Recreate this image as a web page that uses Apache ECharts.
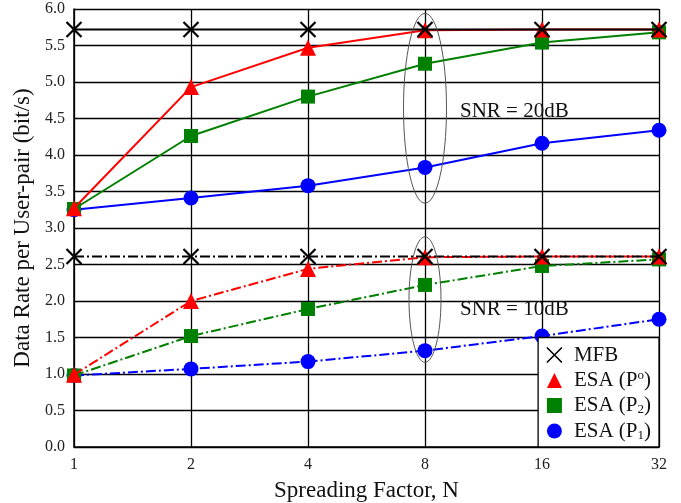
<!DOCTYPE html>
<html>
<head>
<meta charset="utf-8">
<script src="https://cdn.jsdelivr.net/npm/echarts@6/dist/echarts.min.js"></script>
<style>
  html, body { margin: 0; padding: 0; background: #fff; }
  #chart { width: 681px; height: 503px; }
</style>
</head>
<body>
<div id="chart"></div>
<script>
// Spreading factors on the horizontal axis
const spreadingFactors = ['1', '2', '4', '8', '16', '32'];
const yTicks = [0, 0.5, 1.0, 1.5, 2.0, 2.5, 3.0, 3.5, 4.0, 4.5, 5.0, 5.5, 6.0];

// SNR = 20 dB
const mfb20 = [5.72, 5.72, 5.72, 5.72, 5.72, 5.72];
const esaPo20 = [3.27, 4.93, 5.47, 5.71, 5.72, 5.72];
const esaP2_20 = [3.26, 4.26, 4.80, 5.25, 5.54, 5.68];
const esaP1_20 = [3.25, 3.41, 3.58, 3.83, 4.16, 4.34];

// SNR = 10 dB
const mfb10 = [2.61, 2.61, 2.61, 2.61, 2.61, 2.61];
const esaPo10 = [0.99, 2.00, 2.44, 2.60, 2.61, 2.61];
const esaP2_10 = [0.98, 1.52, 1.89, 2.22, 2.48, 2.57];
const esaP1_10 = [0.98, 1.07, 1.17, 1.32, 1.52, 1.75];

const FONT = '"Liberation Serif", "Times New Roman", serif';
const CROSS = 'path://M0,0L10,10M0,10L10,0';
const DASHDOT = [10, 3, 2, 3];

const chart = echarts.init(document.getElementById('chart'), null, { renderer: 'canvas' });

function lineSeries(name, data, color, symbol, size, dashed, z) {
  const s = {
    name: name,
    type: 'line',
    data: data,
    symbol: symbol,
    symbolSize: size,
    showSymbol: true,
    z: z,
    lineStyle: { color: color, width: 2, type: dashed ? DASHDOT : 'solid' },
    itemStyle: { color: color, opacity: 1 }
  };
  if (symbol === CROSS) {
    s.itemStyle = { color: 'rgba(0,0,0,0)', borderColor: color, borderWidth: 2.2 };
  }
  return s;
}

const option = {
  backgroundColor: '#ffffff',
  animation: false,
  textStyle: { fontFamily: FONT, color: '#111' },
  grid: { left: 74, right: 22, top: 9, bottom: 56, show: false, outerBoundsMode: 'none', containLabel: false },
  xAxis: {
    type: 'category',
    data: spreadingFactors,
    boundaryGap: false,
    name: 'Spreading Factor, N',
    nameLocation: 'middle',
    nameGap: 32,
    nameTextStyle: { fontFamily: FONT, fontSize: 23, color: '#111' },
    axisLine: { lineStyle: { color: '#000', width: 1.5 } },
    axisTick: { show: false },
    axisLabel: { fontFamily: FONT, fontSize: 16, color: '#222', margin: 10 },
    splitLine: { show: true, lineStyle: { color: '#000', width: 1.3 } }
  },
  yAxis: {
    type: 'value',
    min: yTicks[0],
    max: yTicks[yTicks.length - 1],
    interval: 0.5,
    name: 'Data Rate per User-pair (bit/s)',
    nameLocation: 'middle',
    nameGap: 39,
    nameTextStyle: { fontFamily: FONT, fontSize: 23, color: '#111' },
    axisLine: { show: true, lineStyle: { color: '#000', width: 1.5 } },
    axisTick: { show: false },
    axisLabel: {
      fontFamily: FONT, fontSize: 16, color: '#222', margin: 9,
      formatter: v => v.toFixed(1)
    },
    splitLine: { show: true, lineStyle: { color: '#000', width: 1.3 } }
  },
  legend: {
    orient: 'vertical',
    right: 22,
    bottom: 56,
    padding: [7, 8, 5, 8],
    itemGap: 4,
    itemWidth: 15,
    itemHeight: 15,
    backgroundColor: '#fff',
    borderColor: '#000',
    borderWidth: 1.3,
    borderRadius: 0,
    textStyle: {
      fontFamily: FONT, fontSize: 21, color: '#111',
      rich: {
        t: { fontFamily: FONT, fontSize: 21, color: '#111', lineHeight: 21 },
        sp: { width: 7 },
        sup: { fontFamily: FONT, fontSize: 13, color: '#111', verticalAlign: 'top', padding: [0, 0, 9, 0] },
        sub: { fontFamily: FONT, fontSize: 13, color: '#111', verticalAlign: 'bottom', padding: [9, 0, 0, 0] }
      }
    },
    formatter: function (name) {
      if (name === 'ESA (Po)') return '{sp|}{t|ESA (P}{sup|o}{t|)}';
      if (name === 'ESA (P2)') return '{sp|}{t|ESA (P}{sub|2}{t|)}';
      if (name === 'ESA (P1)') return '{sp|}{t|ESA (P}{sub|1}{t|)}';
      return '{sp|}{t|' + name + '}';
    },
    data: [
      { name: 'MFB', icon: CROSS, itemStyle: { color: 'rgba(0,0,0,0)', borderColor: '#000', borderWidth: 1.6 } },
      { name: 'ESA (Po)', icon: 'triangle', itemStyle: { color: '#ff0000' } },
      { name: 'ESA (P2)', icon: 'rect', itemStyle: { color: '#008000' } },
      { name: 'ESA (P1)', icon: 'circle', itemStyle: { color: '#0000ff' } }
    ]
  },
  series: [
    lineSeries('ESA (P1)', esaP1_20, '#0000ff', 'circle', 15, false, 3),
    lineSeries('ESA (P2)', esaP2_20, '#008000', 'rect', 14, false, 4),
    lineSeries('ESA (Po)', esaPo20, '#ff0000', 'triangle', 16, false, 5),
    lineSeries('MFB', mfb20, '#000000', CROSS, 15, false, 6),
    lineSeries('ESA (P1)', esaP1_10, '#0000ff', 'circle', 15, true, 3),
    lineSeries('ESA (P2)', esaP2_10, '#008000', 'rect', 14, true, 4),
    lineSeries('ESA (Po)', esaPo10, '#ff0000', 'triangle', 16, true, 5),
    lineSeries('MFB', mfb10, '#000000', CROSS, 15, true, 6)
  ]
};

chart.setOption(option);

// Ellipses marking N = 8 for each SNR group, plus the SNR labels
function ellipseAt(cat, yCenter, yHalf, rx) {
  const c = chart.convertToPixel({ gridIndex: 0 }, [cat, yCenter]);
  const t = chart.convertToPixel({ gridIndex: 0 }, [cat, yCenter + yHalf]);
  return {
    type: 'ellipse',
    shape: { cx: c[0], cy: c[1], rx: rx, ry: Math.abs(c[1] - t[1]) },
    style: { fill: 'none', stroke: '#555', lineWidth: 1 },
    z: 10
  };
}
function labelAt(cat, yVal, dx, text) {
  const p = chart.convertToPixel({ gridIndex: 0 }, [cat, yVal]);
  return {
    type: 'text',
    x: p[0] + dx,
    y: p[1],
    style: {
      text: text, font: '21px ' + FONT, fill: '#111',
      textVerticalAlign: 'middle', verticalAlign: 'middle'
    },
    z: 20
  };
}

chart.setOption({
  graphic: [
    ellipseAt('8', 4.64, 1.30, 21.5),
    ellipseAt('8', 2.02, 0.86, 16),
    labelAt('8', 4.59, 35, 'SNR = 20dB'),
    labelAt('8', 1.89, 35, 'SNR = 10dB')
  ]
});
</script>
</body>
</html>
